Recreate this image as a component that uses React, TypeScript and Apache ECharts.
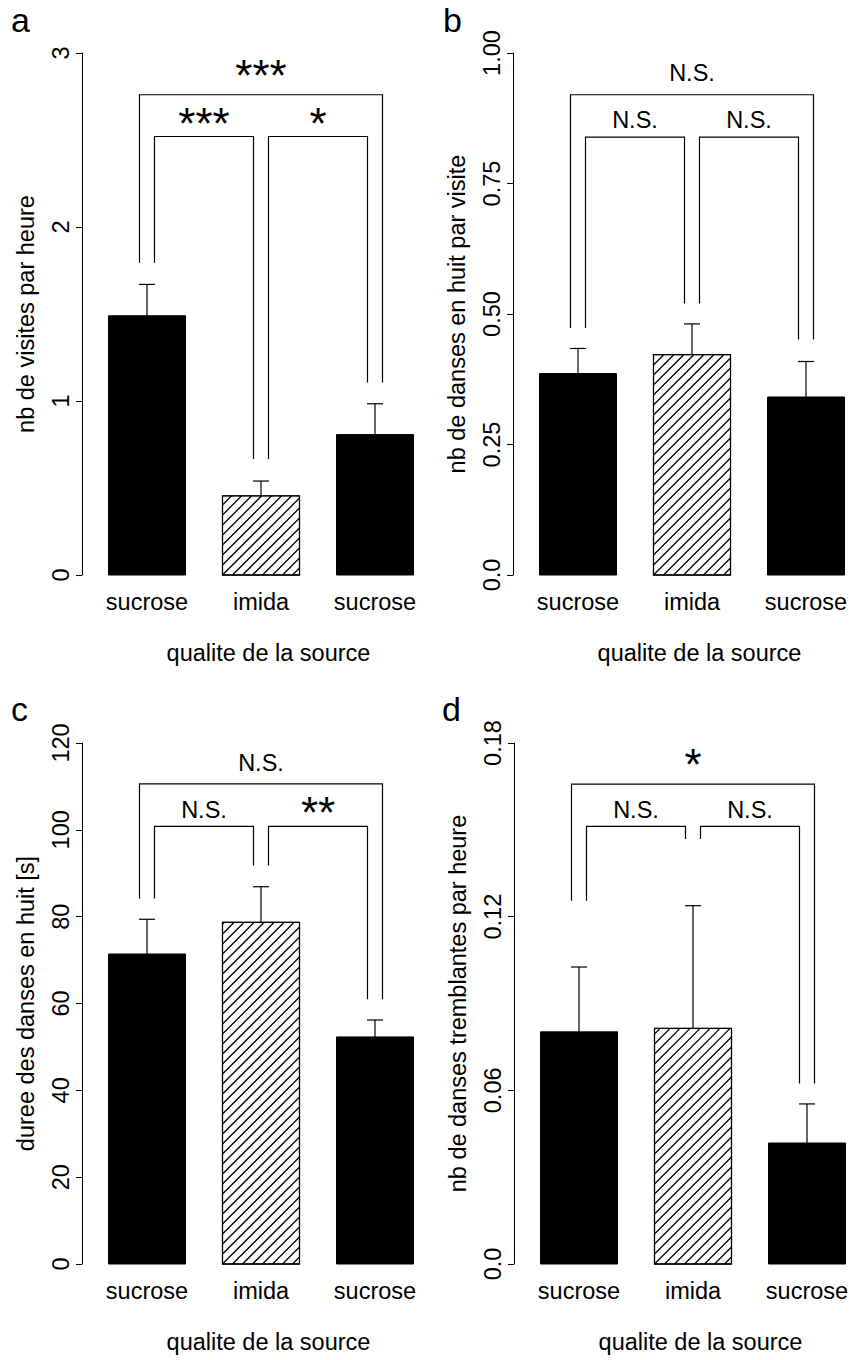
import React, { useEffect, useRef } from "react";
import * as echarts from "echarts";

const FONT = "'Liberation Sans', Arial, Helvetica, sans-serif";

const categories = ["sucrose", "imida", "sucrose"];
const xTitle = "qualite de la source";

// Panel a
const visitsMean = [1.49, 0.455, 0.807];
const visitsSE = [0.18, 0.085, 0.177];
const visitsLegEnds = [1.795, 0.666, 1.107];
const visitsBrackets = [
  [0, 2, 2.76, 2.92],
  [0, 1, 2.52, 2.645],
  [1, 2, 2.52, 2.645],
];
const visitsSig = ["***", "***", "*"];

// Panel b
const waggleMean = [0.386, 0.422, 0.341];
const waggleSE = [0.048, 0.059, 0.068];
const waggleLegEnds = [0.473, 0.52, 0.451];
const waggleBrackets = [
  [0, 2, 0.92, 0.962],
  [0, 1, 0.839, 0.872],
  [1, 2, 0.839, 0.872],
];
const waggleSig = ["N.S.", "N.S.", "N.S."];

// Panel c
const durationMean = [71.4, 78.7, 52.3];
const durationSE = [8.0, 8.2, 3.9];
const durationLegEnds = [84.2, 91.8, 61.0];
const durationBrackets = [
  [0, 2, 110.6, 115.5],
  [0, 1, 100.8, 104.6],
  [1, 2, 100.8, 106.1],
];
const durationSig = ["N.S.", "N.S.", "**"];

// Panel d
const trembleMean = [0.0802, 0.0814, 0.0418];
const trembleSE = [0.0224, 0.0424, 0.0135];
const trembleLegEnds = [0.1255, 0.1468, 0.0624];
const trembleBrackets = [
  [0, 2, 0.1658, 0.1755],
  [0, 1, 0.1512, 0.1568],
  [1, 2, 0.1512, 0.1568],
];
const trembleSig = ["*", "N.S.", "N.S."];

const fmt2 = (v: number) => (v === 0 ? "0.0" : v.toFixed(2));
const fmt0 = (v: number) => String(v);

const panels = [
  { letter: "a", means: visitsMean, se: visitsSE, legs: visitsLegEnds, brackets: visitsBrackets, sig: visitsSig, max: 3, interval: 1, yTitle: "nb de visites par heure", fmt: fmt0 },
  { letter: "b", means: waggleMean, se: waggleSE, legs: waggleLegEnds, brackets: waggleBrackets, sig: waggleSig, max: 1, interval: 0.25, yTitle: "nb de danses en huit par visite", fmt: fmt2 },
  { letter: "c", means: durationMean, se: durationSE, legs: durationLegEnds, brackets: durationBrackets, sig: durationSig, max: 120, interval: 20, yTitle: "duree des danses en huit [s]", fmt: fmt0 },
  { letter: "d", means: trembleMean, se: trembleSE, legs: trembleLegEnds, brackets: trembleBrackets, sig: trembleSig, max: 0.18, interval: 0.06, yTitle: "nb de danses tremblantes par heure", fmt: fmt2 },
];

const CHART_W = 849;
const layouts = [
  { axisX: 82, top: 53, bottom: 575, letterX: 11, letterBase: 30 },
  { axisX: 513, top: 53, bottom: 575, letterX: 443, letterBase: 30 },
  { axisX: 82, top: 743, bottom: 1264, letterX: 11, letterBase: 719 },
  { axisX: 514, top: 743, bottom: 1264, letterX: 442, letterBase: 719 },
];

const BAR_W = 77;
const BAND = 114;
const AX_OFF = 8;
const TXT = 23.5;

function buildOption() {
  const grid: any[] = [];
  const xAxis: any[] = [];
  const yAxis: any[] = [];
  const series: any[] = [];
  const graphic: any[] = [];

  panels.forEach((p, k) => {
    const L = layouts[k];
    const gl = L.axisX + AX_OFF;
    grid.push({
      left: gl,
      top: L.top,
      width: BAND * 3,
      height: L.bottom - L.top,
      containLabel: false,
      outerBoundsMode: "none",
    });
    xAxis.push({
      type: "category",
      gridIndex: k,
      data: categories,
      axisLine: { show: false },
      axisTick: { show: false },
      axisLabel: { color: "#000", fontSize: TXT, fontFamily: FONT, margin: 15 },
      name: xTitle,
      nameLocation: "middle",
      nameGap: 66,
      nameTextStyle: { color: "#000", fontSize: TXT, fontFamily: FONT, padding: [0, 0, 0, 15] },
    });
    yAxis.push({
      type: "value",
      gridIndex: k,
      min: 0,
      max: p.max,
      interval: p.interval,
      offset: AX_OFF,
      splitLine: { show: false },
      axisLine: { show: true, lineStyle: { color: "#000", width: 1 } },
      axisTick: { show: true, length: 6, lineStyle: { color: "#000", width: 1 } },
      axisLabel: {
        color: "#000",
        fontSize: TXT,
        fontFamily: FONT,
        rotate: 90,
        margin: 9,
        align: "center",
        verticalAlign: "bottom",
        formatter: p.fmt,
      },
      name: p.yTitle,
      nameLocation: "middle",
      nameRotate: 90,
      nameGap: 44,
      nameTextStyle: { color: "#000", fontSize: TXT, fontFamily: FONT },
    });

    series.push({
      type: "custom",
      xAxisIndex: k,
      yAxisIndex: k,
      clip: false,
      data: p.means.map((m, i) => [i, m, p.se[i]]),
      encode: { x: 0, y: 1 },
      renderItem: (params: any, api: any) => {
        const i = api.value(0);
        const m = api.value(1);
        const s = api.value(2);
        const top = api.coord([i, m]);
        const base = api.coord([i, 0]);
        const err = api.coord([i, m + s]);
        const cx = top[0];
        const Lx = cx - BAR_W / 2;
        const T = top[1];
        const H = base[1] - top[1];
        const hatched = categories[i] === "imida";
        const children: any[] = [];
        children.push({
          type: "rect",
          shape: { x: Lx, y: T, width: BAR_W, height: H },
          style: { fill: hatched ? "#fff" : "#000", stroke: "#000", lineWidth: 1 },
        });
        if (hatched) {
          const step = 10;
          const W = BAR_W;
          for (let c = H % step; c < W + H; c += step) {
            if (c <= 0) continue;
            const xa = Math.max(Lx, Lx + c - H);
            const xb = Math.min(Lx + W, Lx + c);
            const k0 = Lx + T + c;
            children.push({
              type: "line",
              shape: { x1: xa, y1: k0 - xa, x2: xb, y2: k0 - xb },
              style: { stroke: "#000", lineWidth: 1.3 },
            });
          }
          children.push({
            type: "rect",
            shape: { x: Lx, y: T, width: BAR_W, height: H },
            style: { fill: "none", stroke: "#000", lineWidth: 1.3 },
          });
        }
        children.push({
          type: "line",
          shape: { x1: cx, y1: T, x2: cx, y2: err[1] },
          style: { stroke: "#000", lineWidth: 1.2 },
        });
        children.push({
          type: "line",
          shape: { x1: cx - 8, y1: err[1], x2: cx + 8, y2: err[1] },
          style: { stroke: "#000", lineWidth: 1.2 },
        });
        return { type: "group", children };
      },
    });

    series.push({
      type: "custom",
      xAxisIndex: k,
      yAxisIndex: k,
      clip: false,
      data: p.brackets.map((b) => [b[0], b[2], b[1], b[3]]),
      encode: { x: 0, y: 1 },
      renderItem: (params: any, api: any) => {
        const b = p.brackets[params.dataIndex];
        const [from, to, level, labelLevel] = b;
        const outer = to - from > 1;
        const d1 = outer ? -7.5 : 7.5;
        const d2 = outer ? 7.5 : -7.5;
        const p1 = api.coord([from, p.legs[from]]);
        const p2 = api.coord([from, level]);
        const p3 = api.coord([to, level]);
        const p4 = api.coord([to, p.legs[to]]);
        const label = p.sig[params.dataIndex];
        const isStar = label.indexOf("*") >= 0;
        const fs = isStar ? 44 : TXT;
        const ly = api.coord([from, labelLevel])[1] + (isStar ? 0.2 * fs : 0);
        const mx = (p2[0] + d1 + p3[0] + d2) / 2;
        return {
          type: "group",
          children: [
            {
              type: "polyline",
              shape: {
                points: [
                  [p1[0] + d1, p1[1]],
                  [p2[0] + d1, p2[1]],
                  [p3[0] + d2, p3[1]],
                  [p4[0] + d2, p4[1]],
                ],
              },
              style: { stroke: "#000", lineWidth: 1.2, fill: "none" },
            },
            {
              type: "text",
              x: mx,
              y: ly,
              style: {
                text: label,
                fontSize: fs,
                fontFamily: FONT,
                fill: "#000",
                align: "center",
                verticalAlign: "middle",
              },
            },
          ],
        };
      },
    });

    graphic.push({
      type: "text",
      left: L.letterX,
      top: L.letterBase - 27,
      style: { text: p.letter, fontSize: 34, fontFamily: FONT, fill: "#000" },
    });
  });

  return { animation: false, backgroundColor: "#fff", grid, xAxis, yAxis, series, graphic };
}

export default function App() {
  const ref = useRef<HTMLDivElement>(null);
  useEffect(() => {
    document.body.style.margin = "0";
    if (!ref.current) return;
    const chart = echarts.init(ref.current, undefined, { renderer: "svg" });
    chart.setOption(buildOption() as any);
    return () => chart.dispose();
  }, []);
  return <div ref={ref} style={{ width: CHART_W, height: 1360, position: "absolute", left: 0, top: 0 }} />;
}
